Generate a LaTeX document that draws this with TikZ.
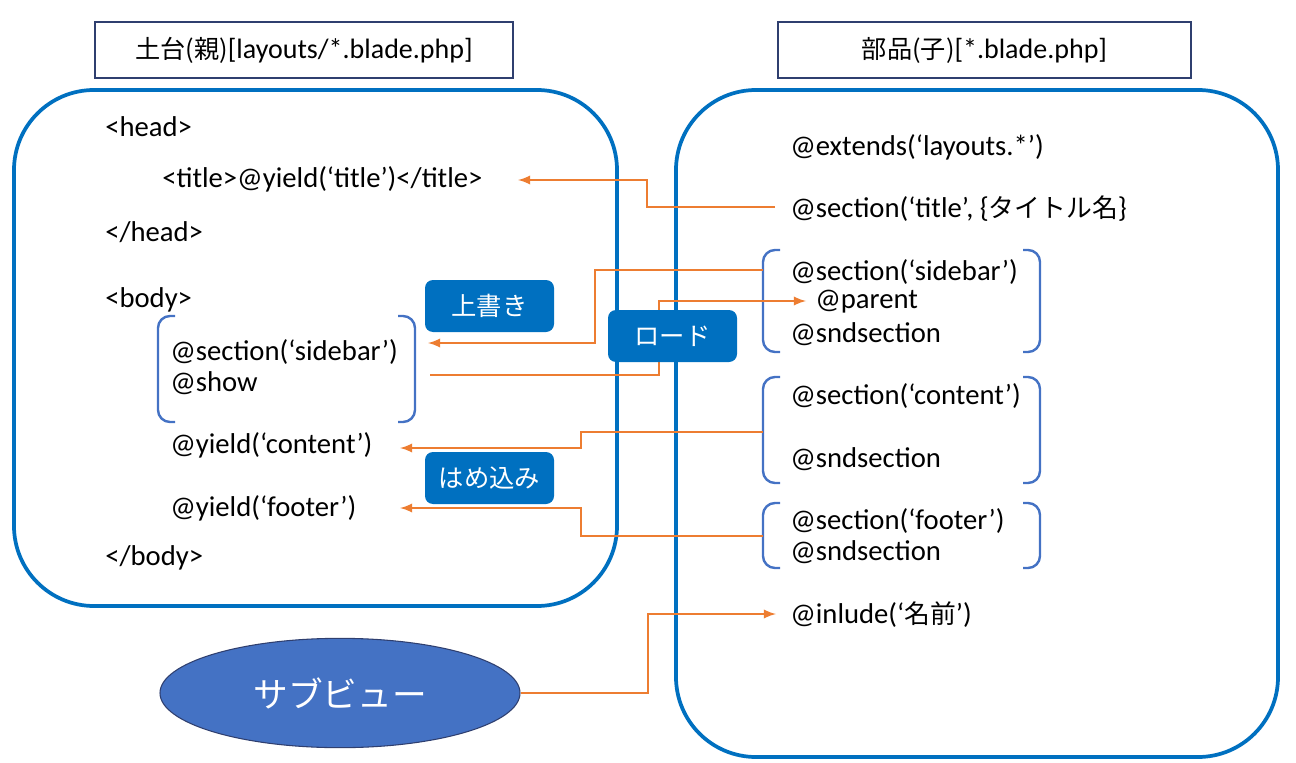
\documentclass[tikz,border=0pt]{standalone}
\usepackage{fontspec}
\setmainfont{Carlito}
\newfontfamily\jp{Noto Sans CJK JP}[Scale=0.9]
\newfontfamily\jptag{Noto Sans CJK JP}
\usetikzlibrary{positioning,shapes.geometric}
\definecolor{frameblue}{HTML}{0070C0}
\definecolor{brblue}{HTML}{4472C4}
\definecolor{titleblue}{HTML}{2F3F6F}
\definecolor{linkorange}{HTML}{ED7D31}
\tikzset{>=latex,
         code/.style={anchor=west,inner sep=0pt,font=\fontsize{21.5}{24}\selectfont},
         frame/.style={draw=frameblue,line width=2.8pt,rounded corners=60pt},
         heading/.style={draw=titleblue,line width=0.8pt,inner sep=0pt,font=\fontsize{21}{24}\selectfont},
         bracket/.style={draw=brblue,line width=1.8pt,rounded corners=9pt},
         tag/.style={fill=frameblue,rounded corners=6pt,text=white,minimum width=96.75pt,minimum height=39pt,font=\jptag\fontsize{19}{22}\selectfont},
         link/.style={draw=linkorange,line width=2.1pt},
         every join/.style={->}}

\begin{document}
\begin{tikzpicture}[x=0.75pt,y=-0.75pt]
  \useasboundingbox (0,0) rectangle (1296,763);
  % frames
  \draw[frame] (14,90) rectangle (617,606);
  \draw[frame] (676,90) rectangle (1278,757);
  \node[heading,minimum width=313.5pt,minimum height=42pt] (parent) at (304,50) {{\jp 土台(親)}[layouts/*.blade.php]};
  \node[heading,minimum width=309.75pt,minimum height=42pt] (child) at (984.5,50) {{\jp 部品(子)}[*.blade.php]};

  % layout side
  \node[code] (head)    at (105,127) {<head>};
  \node[code] (title)   at (162,179) {<title>@yield(‘title’)</title>};
  \node[code] (headend) at (105,232) {</head>};
  \node[code] (body)    at (105,300) {<body>};
  \node[code] (side)    at (170,352) {@section(‘sidebar’)};
  \node[code] (show)    at (170,383) {@show};
  \node[code] (cont)    at (170,445) {@yield(‘content’)};
  \node[code] (foot)    at (170,508) {@yield(‘footer’)};
  \node[code] (bodyend) at (105,558) {</body>};
  \draw[bracket] (175,316) -| (158,422) -- (175,422);
  \draw[bracket] (398,316) -| (415,422) -- (398,422);

  % part side
  \node[code] (ext)     at (790,147) {@extends(‘layouts.*’)};
  \node[code] (csec)    at (790,209) {@section(‘title’, \{{\jp タイトル名}\}};
  \node[code] (cside)   at (790,272) {@section(‘sidebar’)};
  \node[code] (cpar)    at (815,302) {@parent};
  \node[code] (cend1)   at (790,334) {@sndsection};
  \node[code] (ccont)   at (790,396) {@section(‘content’)};
  \node[code] (cend2)   at (790,459) {@sndsection};
  \node[code] (cfoot)   at (790,521) {@section(‘footer’)};
  \node[code] (cend3)   at (790,552) {@sndsection};
  \node[code] (cinc)    at (790,615) {@inlude(‘{\jp 名前}’)};
  \draw[bracket] (780,250) -| (763,352) -- (780,352);
  \draw[bracket] (1023,250) -| (1040,352) -- (1023,352);
  \draw[bracket] (780,377) -| (763,483) -- (780,483);
  \draw[bracket] (1023,377) -| (1040,483) -- (1023,483);
  \draw[bracket] (780,503) -| (763,568) -- (780,568);
  \draw[bracket] (1023,503) -| (1040,568) -- (1023,568);

  % links
  \coordinate (t1) at (775,207);  \coordinate (h1) at (518,180);
  \coordinate (t2) at (763,270);  \coordinate (h2) at (428,343);
  \coordinate (t3) at (430,375);  \coordinate (h3) at (806,301);
  \coordinate (t4) at (763,432);  \coordinate (h4) at (400,448);
  \coordinate (t5) at (763,536);  \coordinate (h5) at (400,508);
  \coordinate (h6) at (776,614);
  \draw[link,->] (t1) -| (647,180) -- (h1);
  \draw[link,->] (t2) -| (595,343) -- (h2);
  \draw[link,->] (t3) -| (659,301) -- (h3);
  \draw[link,->] (t4) -| (581,448) -- (h4);
  \draw[link,->] (t5) -| (581,508) -- (h5);

  % tags
  \node[tag] (over) at (489.5,306) {上書き};
  \node[tag] (load) at (672.5,336) {ロード};
  \node[tag] (fill) at (489.5,478) {はめ込み};

  % sub view
  \node[ellipse,draw=titleblue,fill=brblue,line width=0.8pt,minimum width=270pt,minimum height=82pt,text=white,font=\jptag\fontsize{26}{30}\selectfont] (sub) at (340,693) {サブビュー};
  \draw[link,->] (sub.east) -| (648,614) -- (h6);
\end{tikzpicture}
\end{document}
